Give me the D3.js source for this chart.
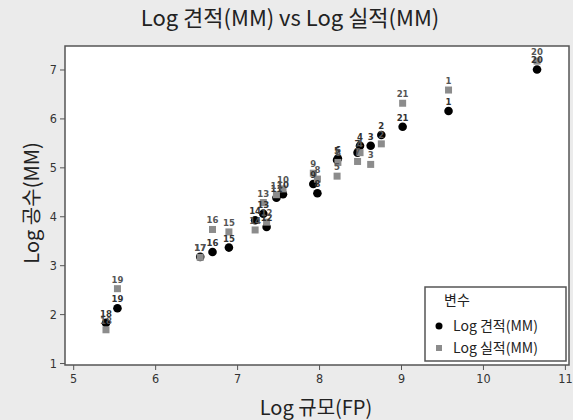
<!DOCTYPE html>
<html><head><meta charset="utf-8">
<script src="https://cdn.jsdelivr.net/npm/d3@7"></script>
<style>
html,body{margin:0;padding:0;background:#ebebeb;}
text{font-family:"Noto Sans CJK KR","Noto Sans",sans-serif;}
</style></head>
<body>
<svg id="chart" width="573" height="420"></svg>
<script>
const ids = [1,2,3,4,5,6,7,8,9,10,11,12,13,14,15,16,17,18,19,20,21];
const logFP = [9.58,8.76,8.63,8.50,8.22,8.23,8.47,7.98,7.93,7.56,7.48,7.36,7.32,7.22,6.90,6.70,6.55,5.40,5.54,10.66,9.02];
const logEst = [6.15,5.66,5.44,5.44,5.15,5.18,5.30,4.47,4.66,4.45,4.38,3.78,4.05,3.92,3.36,3.27,3.17,1.82,2.12,7.00,5.83];
const logAct = [6.58,5.48,5.06,5.30,4.82,5.10,5.12,4.76,4.88,4.56,4.44,3.88,4.28,3.72,3.68,3.73,3.16,1.68,2.52,7.17,6.31];
const xTicks = [5,6,7,8,9,10,11];
const yTicks = [1,2,3,4,5,6,7];
const seriesNames = ["Log 견적(MM)","Log 실적(MM)"];
const titleText = "Log 견적(MM) vs Log 실적(MM)";
const xTitle = "Log 규모(FP)";
const yTitle = "Log 공수(MM)";
const legendTitle = "변수";

const svg = d3.select("#chart");
const L=65,R=569,T=46,B=365;
const x = d3.scaleLinear().domain([4.9,11.05]).range([L,R]);
const y = d3.scaleLinear().domain([0.96,7.48]).range([B,T]);

svg.append("rect").attr("width",573).attr("height",420).attr("fill","#ebebeb");
svg.append("rect").attr("x",L).attr("y",T).attr("width",R-L).attr("height",B-T).attr("fill","#fff");

const xa = svg.append("g").attr("transform",`translate(0,${B})`)
  .call(d3.axisBottom(x).tickValues(xTicks).tickSize(5).tickPadding(4).tickFormat(d3.format("d")));
const ya = svg.append("g").attr("transform",`translate(${L},0)`)
  .call(d3.axisLeft(y).tickValues(yTicks).tickSize(5).tickPadding(3).tickFormat(d3.format("d")));
[xa,ya].forEach(a=>{
  a.select(".domain").remove();
  a.selectAll("line").attr("stroke","#555");
  a.selectAll("text").attr("fill","#333").style("font-size","12.5px").style("font-family","'DejaVu Sans Condensed','DejaVu Sans',sans-serif");
});

svg.append("rect").attr("x",L).attr("y",T).attr("width",R-L).attr("height",B-T)
  .attr("fill","none").attr("stroke","#555").attr("stroke-width",1.5);

const data = ids.map((id,i)=>({id, fp:logFP[i], est:logEst[i], act:logAct[i]}));
const g = svg.append("g");
g.selectAll("circle.est").data(data).enter().append("circle")
  .attr("cx",d=>x(d.fp)).attr("cy",d=>y(d.est)).attr("r",4.3).attr("fill","#000");
g.selectAll("rect.act").data(data).enter().append("rect")
  .attr("x",d=>x(d.fp)-3.5).attr("y",d=>y(d.act)-3.5).attr("width",7).attr("height",7).attr("fill","#8c8c8c");
const lblFont = "'DejaVu Sans Condensed','DejaVu Sans',sans-serif";
g.selectAll("text.le").data(data).enter().append("text")
  .attr("x",d=>x(d.fp)).attr("y",d=>y(d.est)-6).attr("text-anchor","middle")
  .style("font-size","9.5px").style("font-weight","bold").style("font-family",lblFont).attr("fill","#333").text(d=>d.id);
g.selectAll("text.la").data(data).enter().append("text")
  .attr("x",d=>x(d.fp)).attr("y",d=>y(d.act)-6).attr("text-anchor","middle")
  .style("font-size","9.5px").style("font-weight","bold").style("font-family",lblFont).attr("fill","#555").text(d=>d.id);

svg.append("text").attr("x",290).attr("y",26).attr("text-anchor","middle")
  .style("font-size","22px").attr("fill","#222").text(titleText);
svg.append("text").attr("x",316).attr("y",415).attr("text-anchor","middle")
  .style("font-size","20px").attr("fill","#222").text(xTitle);
svg.append("text").attr("transform","translate(39,203) rotate(-90)").attr("text-anchor","middle")
  .style("font-size","20px").attr("fill","#222").text(yTitle);

const lg = svg.append("g");
lg.append("rect").attr("x",425).attr("y",287).attr("width",141).attr("height",74)
  .attr("fill","#fff").attr("stroke","#555").attr("stroke-width",1.5);
lg.append("text").attr("x",444).attr("y",305).style("font-size","14px").attr("fill","#222").text(legendTitle);
lg.append("circle").attr("cx",439).attr("cy",326).attr("r",3.5).attr("fill","#000");
lg.append("rect").attr("x",436).attr("y",345).attr("width",6).attr("height",6).attr("fill","#8c8c8c");
lg.append("text").attr("x",453).attr("y",331).style("font-size","14px").attr("fill","#222").text(seriesNames[0]);
lg.append("text").attr("x",453).attr("y",353).style("font-size","14px").attr("fill","#222").text(seriesNames[1]);
</script>
</body></html>
